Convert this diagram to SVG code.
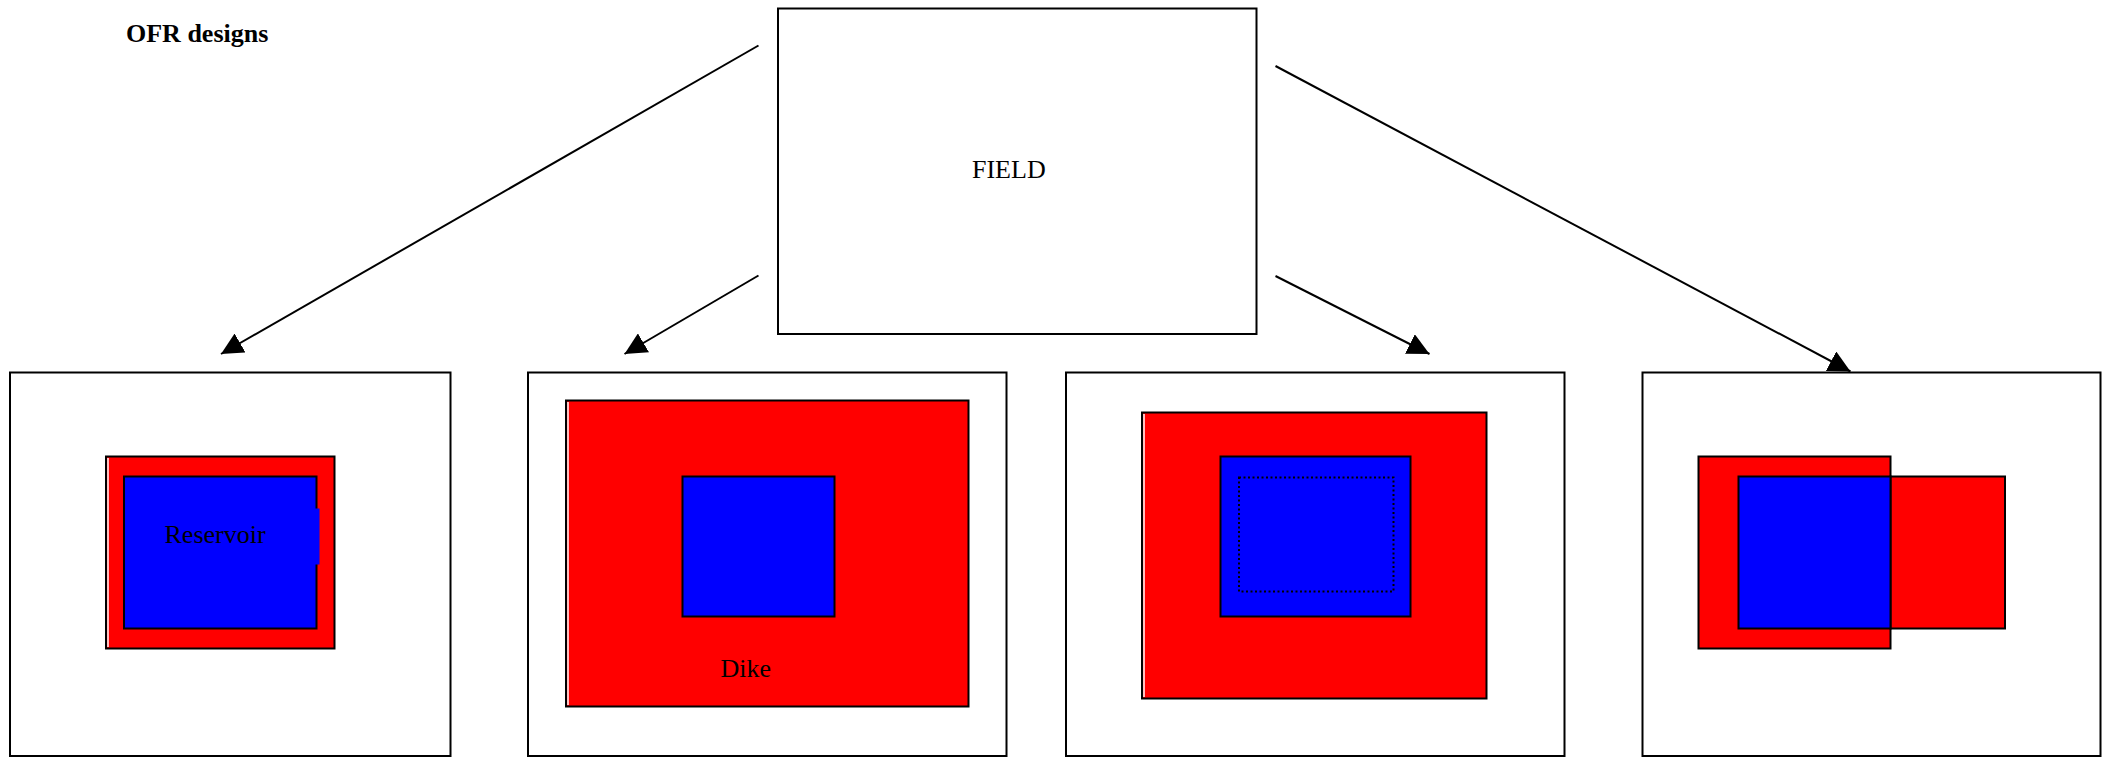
<svg xmlns="http://www.w3.org/2000/svg" width="2112" height="757" viewBox="0 0 2112 757">
<style>
.box{fill:#ffffff;stroke:#000000;stroke-width:2}
.red{fill:#ff0000;stroke:#000000;stroke-width:2}
.blue{fill:#0000ff;stroke:#000000;stroke-width:2}
.lbl{font-family:"Liberation Serif","Times New Roman",serif;font-size:26px;fill:#000000}
.conn{stroke:#000000;stroke-width:2;fill:none;marker-end:url(#ah)}
.sliver{stroke:#ffffff;stroke-width:1.5}
</style>
<defs>
<marker id="ah" markerUnits="userSpaceOnUse" markerWidth="22" markerHeight="22" refX="20" refY="10" orient="auto" viewBox="0 0 20 20">
<path d="M0,0 L20,10 L0,20 z" fill="#000000"/>
</marker>
</defs>
<rect width="2112" height="757" fill="#ffffff"/>
<text id="title" class="lbl" x="126" y="42" font-weight="bold" font-size="26.5">OFR designs</text>
<g id="field">
<rect class="box" x="778" y="8.5" width="478.5" height="325.5"/>
<text class="lbl" x="972" y="178">FIELD</text>
</g>
<g id="design1">
<rect class="box" x="10" y="372.5" width="440.5" height="383.5"/>
<rect class="red" x="106" y="456.5" width="228.5" height="192"/>
<line class="sliver" x1="108" y1="458" x2="108" y2="647"/>
<rect class="blue" x="124" y="476.5" width="192.5" height="152"/>
<rect x="315" y="508.5" width="4.5" height="56" fill="#0000ff"/>
<text class="lbl" x="164.5" y="542.5">Reservoir</text>
</g>
<g id="design2">
<rect class="box" x="528" y="372.5" width="478.5" height="383.5"/>
<rect class="red" x="566" y="400.5" width="402.5" height="306"/>
<line class="sliver" x1="568" y1="402" x2="568" y2="705"/>
<rect class="blue" x="682.5" y="476.5" width="152" height="140"/>
<text class="lbl" x="720.5" y="677">Dike</text>
</g>
<g id="design3">
<rect class="box" x="1066" y="372.5" width="498.5" height="383.5"/>
<rect class="red" x="1142" y="412.5" width="344.5" height="286"/>
<line class="sliver" x1="1144" y1="414" x2="1144" y2="697"/>
<rect class="blue" x="1220.5" y="456.5" width="190" height="160"/>
<rect x="1239" y="477.5" width="154.5" height="114" fill="none" stroke="#000000" stroke-width="2" stroke-dasharray="2 2.5"/>
</g>
<g id="design4">
<rect class="box" x="1642.5" y="372.5" width="458" height="383.5"/>
<rect class="red" x="1698.5" y="456.5" width="192" height="192"/>
<rect class="red" x="1890.5" y="476.5" width="114.5" height="152"/>
<rect class="blue" x="1738.5" y="476.5" width="152" height="152"/>
</g>
<g id="connectors">
<line class="conn" x1="758.5" y1="45.5" x2="221" y2="354"/>
<line class="conn" x1="758.5" y1="275.5" x2="624.5" y2="354"/>
<line class="conn" x1="1275.5" y1="276" x2="1429.5" y2="354"/>
<line class="conn" x1="1275.5" y1="66" x2="1850.5" y2="371.5"/>
</g>
</svg>
